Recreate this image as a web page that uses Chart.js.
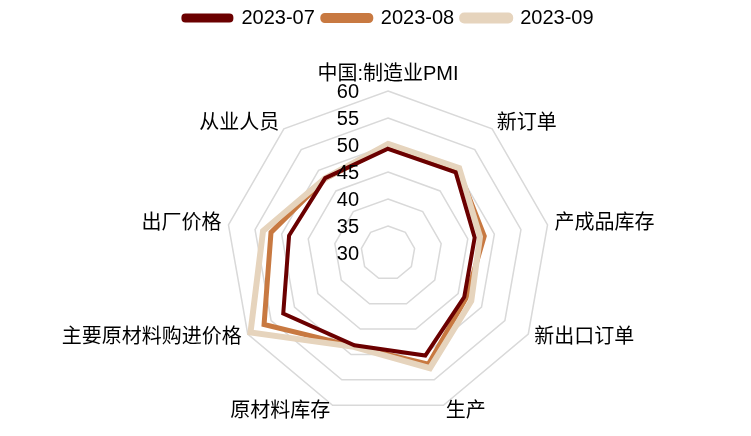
<!DOCTYPE html>
<html>
<head>
<meta charset="utf-8">
<script src="https://cdn.jsdelivr.net/npm/chart.js@4.4.0/dist/chart.umd.min.js"></script>
<style>
  html, body { margin: 0; padding: 0; background: #fff; }
  #wrap { width: 751px; height: 436px; }
</style>
</head>
<body>
<div id="wrap"><canvas id="myChart"></canvas></div>
<script>
var labels = ['中国:制造业PMI', '新订单', '产成品库存', '新出口订单', '生产', '原材料库存', '主要原材料购进价格', '出厂价格', '从业人员'];
var jul = [49.3, 49.5, 46.3, 46.3, 50.2, 48.2, 52.4, 48.6, 48.1];
var aug = [49.7, 50.2, 48.1, 46.7, 51.9, 48.4, 56.5, 52.0, 48.0];
var sep = [50.2, 50.5, 47.3, 47.8, 52.7, 48.5, 59.4, 53.5, 48.1];
var tickValues = [30, 35, 40, 45, 50, 55, 60];

var font = 'Liberation Sans, Arial, "Noto Sans CJK SC", sans-serif';

// tick numbers left of the centre axis, and the axis names placed
// like the spreadsheet does (beside the vertex, vertically centred)
var scaleText = {
    id: 'scaleText',
    afterDatasetsDraw: function (chart) {
        var s = chart.scales.r;
        var ctx = chart.ctx;
        ctx.save();
        ctx.font = '20px ' + font;
        ctx.fillStyle = '#000';
        ctx.textAlign = 'right';
        ctx.textBaseline = 'middle';
        tickValues.forEach(function (v) {
            var y = s.yCenter - s.getDistanceFromCenterForValue(v);
            ctx.fillText(String(v), s.xCenter - 29, y + 1);
        });
        labels.forEach(function (name, i) {
            var p = s.getPointPosition(i, s.drawingArea + 7);
            var dx = p.x - s.xCenter;
            if (dx > 5) {
                ctx.textAlign = 'left';
                ctx.textBaseline = 'middle';
            } else if (dx < -5) {
                ctx.textAlign = 'right';
                ctx.textBaseline = 'middle';
            } else {
                ctx.textAlign = 'center';
                ctx.textBaseline = 'bottom';
            }
            ctx.fillText(name, p.x, p.y);
        });
        ctx.restore();
    }
};

// extra room under the legend
var legendGap = {
    id: 'legendGap',
    beforeInit: function (chart) {
        var fit = chart.legend.fit;
        chart.legend.fit = function () {
            fit.bind(chart.legend)();
            this.height += 53;
        };
    }
};

var ctx = document.getElementById('myChart').getContext('2d');
new Chart(ctx, {
    type: 'radar',
    data: {
        labels: labels,
        datasets: [{
            label: '2023-07',
            data: jul,
            borderColor: '#6b0000',
            backgroundColor: '#6b0000',
            borderWidth: 4,
            fill: false,
            pointRadius: 0,
            order: 0
        }, {
            label: '2023-08',
            data: aug,
            borderColor: '#c87941',
            backgroundColor: '#c87941',
            borderWidth: 5,
            fill: false,
            pointRadius: 0,
            order: 2
        }, {
            label: '2023-09',
            data: sep,
            borderColor: '#e6d4bd',
            backgroundColor: '#e6d4bd',
            borderWidth: 6,
            fill: false,
            pointRadius: 0,
            order: 1
        }]
    },
    options: {
        responsive: true,
        maintainAspectRatio: false,
        animation: false,
        layout: { padding: { top: 0, bottom: 21, left: 26, right: 0 } },
        plugins: {
            tooltip: { enabled: false },
            legend: {
                position: 'top',
                labels: {
                    boxWidth: 48,
                    boxHeight: 5,
                    padding: 8,
                    color: '#000',
                    font: { size: 20, family: font },
                    useBorderRadius: true,
                    borderRadius: 2,
                    sort: function (a, b) { return a.datasetIndex - b.datasetIndex; }
                }
            }
        },
        scales: {
            r: {
                min: 30,
                max: 60,
                ticks: { stepSize: 5, display: false },
                grid: { color: '#d9d9d9', lineWidth: 1.5 },
                angleLines: { display: false },
                pointLabels: { display: false }
            }
        }
    },
    plugins: [scaleText, legendGap]
});
</script>
</body>
</html>
